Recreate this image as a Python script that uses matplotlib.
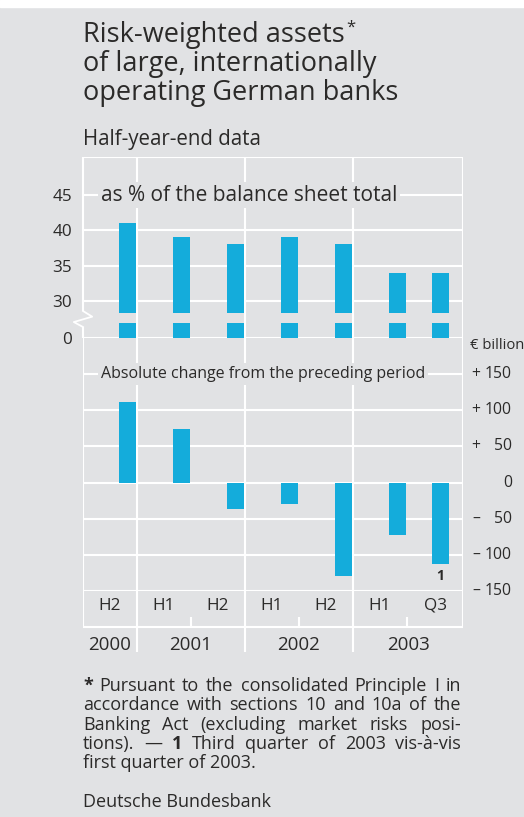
"""Risk-weighted assets of large German banks - Bundesbank style chart"""
import matplotlib
matplotlib.use('Agg')
import matplotlib.pyplot as plt
from matplotlib.patches import Rectangle
import matplotlib.transforms as mtransforms

# ---- data ----
periods = ['H2', 'H1', 'H2', 'H1', 'H2', 'H1', 'Q3']
years = ['2000', '2001', '2002', '2003']
pct_of_balance = [41, 39, 38, 39, 38, 34, 34]          # as % of balance sheet total
abs_change = [111, 74, -36, -29, -129, -73, -112]      # EUR billion
pct_ticks = [30, 35, 40, 45]
chg_ticks = [150, 100, 50, 0, -50, -100, -150]

# ---- layout (pixels) ----
W, H = 524, 817
BG = '#e1e2e4'
BAR = '#14acdb'
TXT = '#2b2a29'
FONT = 'Open Sans'
plt.rcParams['font.family'] = [FONT, 'DejaVu Sans']

bar_x = [0.824, 1.824, 2.824, 3.824, 4.82, 5.82, 6.62]   # half-year units
bar_w = 0.315
xmax = 380 / 54
year_edges = [1, 3, 5]
cell_mid = [0.5, 1.5, 2.5, 3.5, 4.5, 5.5, 6.52]
year_mid = [0.5, 2, 4, 6.02]

x0, x1 = 83, 463
top_y0, top_y1 = 157, 338
bot_y1 = 591
band_y1 = 655
FS_TICK = 12.3
FS_RIGHT = 11.3

def fx(px):
    return px / W

def fy(py):
    return 1 - py / H

fig = plt.figure(figsize=(W / 100, H / 100), dpi=100, facecolor=BG)
fig.patches.append(Rectangle((0, fy(7)), 1, 7 / H, transform=fig.transFigure,
                             color='white', zorder=0))

def make_ax(ya, yb):
    ax = fig.add_axes([fx(x0), fy(yb), fx(x1 - x0), (yb - ya) / H])
    ax.set_facecolor('none')
    for s in ax.spines.values():
        s.set_visible(False)
    ax.set_xlim(0, xmax)
    ax.set_xticks([])
    ax.tick_params(length=0)
    return ax

LW = 1.5
grid_kw = dict(color='white', lw=LW, zorder=1, solid_capstyle='butt')

# ---- upper panel: % of balance sheet total (broken axis) ----
ax1 = make_ax(top_y0, top_y1)
pxu = 106 / 15
y_lo = 30 - 37 / pxu
y_hi = 45 + 38 / pxu
ax1.set_ylim(y_lo, y_hi)
brk_top = 30 - 12.3 / pxu
stub_top = 30 - 22.3 / pxu
for xb, v in zip(bar_x, pct_of_balance):
    ax1.bar(xb, v - brk_top, bottom=brk_top, width=bar_w, color=BAR, zorder=3)
    ax1.bar(xb, stub_top - y_lo, bottom=y_lo, width=bar_w, color=BAR, zorder=3)
for t in pct_ticks + [y_lo, y_hi]:
    ax1.axhline(t, **grid_kw)
for e in year_edges:
    ax1.axvline(e, **grid_kw)
ax1.axvline(xmax, **grid_kw)
y_brk_a, y_brk_b = 30 - 10 / pxu, 30 - 26 / pxu
ax1.plot([0, 0], [y_brk_a, y_hi], clip_on=False, **grid_kw)
ax1.plot([0, 0], [y_lo, y_brk_b], clip_on=False, **grid_kw)
ax1.plot([0, 0.17, -0.17, 0], [y_brk_a, y_brk_a - 0.8, y_brk_b + 0.7, y_brk_b],
         color='white', lw=1.3, clip_on=False, zorder=1)
ax1.set_yticks([y_lo] + pct_ticks)
ax1.set_yticklabels(['0'] + [str(t) for t in pct_ticks], fontsize=FS_TICK, color=TXT)
ax1.tick_params(axis='y', pad=8)
ax1.text(0.33, 45, 'as % of the balance sheet total', fontsize=15, color=TXT,
         va='center', ha='left', zorder=4,
         bbox=dict(facecolor=BG, edgecolor='none', pad=2))

# ---- lower panel: absolute change ----
ax2 = make_ax(top_y1, bot_y1)
ax2.set_ylim(-150, 200)
ax2.bar(bar_x, abs_change, width=bar_w, color=BAR, zorder=3)
for t in chg_ticks:
    ax2.axhline(t, **grid_kw)
for e in year_edges:
    ax2.axvline(e, **grid_kw)
ax2.axvline(0, **grid_kw)
ax2.axvline(xmax, **grid_kw)
ax2.set_yticks([])
ax2.text(0.33, 150, 'Absolute change from the preceding period', fontsize=11.5,
         color=TXT, va='center', ha='left', zorder=4,
         bbox=dict(facecolor=BG, edgecolor='none', pad=2))
ax2.text(bar_x[-1], abs_change[-1] - 8, '1', fontsize=10, fontweight='bold',
         color=TXT, ha='center', va='top')
tr = mtransforms.blended_transform_factory(fig.transFigure, ax2.transData)
for t in chg_ticks:
    sign = '+' if t > 0 else ('\u2013' if t < 0 else '')
    ax2.text(fx(476), t, sign, transform=tr, fontsize=FS_RIGHT, color=TXT,
             ha='center', va='center')
    ax2.text(fx(512), t, str(abs(t)), transform=tr, fontsize=FS_RIGHT, color=TXT,
             ha='right', va='center')
fig.text(fx(470), fy(345), '\u20ac billion', fontsize=10.6, color=TXT,
         ha='left', va='center')

# ---- period / year label band ----
ax3 = make_ax(bot_y1, band_y1)
ax3.set_ylim(band_y1, bot_y1)
ax3.set_yticks([])
ax3.plot([0, xmax], [627, 627], **grid_kw)
ax3.plot([0, 0], [bot_y1, 627], **grid_kw)
ax3.plot([xmax, xmax], [bot_y1, 627], **grid_kw)
for e in year_edges:
    ax3.plot([e, e], [bot_y1, 652], **grid_kw)
for e in [2, 4, 6]:
    ax3.plot([e, e], [617, 627], **grid_kw)
for xm, p in zip(cell_mid, periods):
    ax3.text(xm, 606, p, fontsize=FS_TICK, color=TXT, ha='center', va='center')
for xm, yr in zip(year_mid, years):
    ax3.text(xm, 645, yr, fontsize=13.5, color=TXT, ha='center', va='center')

# ---- titles ----
title_lines = ['Risk-weighted assets', 'of large, internationally',
               'operating German banks']
title_arts = [fig.text(fx(83), fy(35 + 29 * i), ln, fontsize=19.5, color=TXT,
                       ha='left', va='center')
              for i, ln in enumerate(title_lines)]
fig.canvas.draw()
r = fig.canvas.get_renderer()
bb = title_arts[0].get_window_extent(r)
fig.text(bb.x1 / W + fx(2), fy(28), '*', fontsize=12, color=TXT,
         ha='left', va='center')
fig.text(fx(83), fy(140), 'Half-year-end data', fontsize=14.8, color=TXT,
         ha='left', va='center')

# ---- footnote, justified ----
foot = [
    [('*', True), ('Pursuant', False), ('to', False), ('the', False),
     ('consolidated', False), ('Principle', False), ('I', False), ('in', False)],
    [('accordance', False), ('with', False), ('sections', False), ('10', False),
     ('and', False), ('10a', False), ('of', False), ('the', False)],
    [('Banking', False), ('Act', False), ('(excluding', False), ('market', False),
     ('risks', False), ('posi-', False)],
    [('tions).', False), ('\u2014', False), ('1', True), ('Third', False),
     ('quarter', False), ('of', False), ('2003', False), ('vis-\u00e0-vis', False)],
]
fs_foot = 13
left, right = 83, 461
for i, words in enumerate(foot):
    y = fy(686 + 19.3 * i)
    arts = [fig.text(0, y, w, fontsize=fs_foot, color=TXT, ha='left', va='center',
                     fontweight='bold' if b else 'normal') for w, b in words]
    widths = [a.get_window_extent(r).width for a in arts]
    gap = ((right - left) - sum(widths)) / (len(arts) - 1)
    xpos = left
    for a, wd in zip(arts, widths):
        a.set_x(fx(xpos))
        xpos += wd + gap
fig.text(fx(83), fy(686 + 19.3 * 4), 'first quarter of 2003.', fontsize=fs_foot,
         color=TXT, ha='left', va='center')
fig.text(fx(83), fy(802), 'Deutsche Bundesbank', fontsize=fs_foot, color=TXT,
         ha='left', va='center')

fig.savefig('out.png', dpi=100, facecolor=BG)
